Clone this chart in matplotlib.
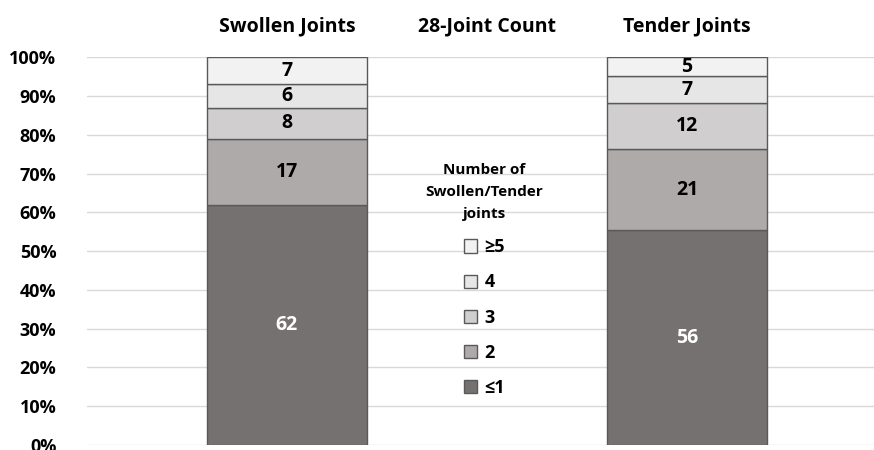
import numpy as np
import matplotlib.pyplot as plt

plt.rcParams['font.family'] = ['Open Sans', 'DejaVu Sans']
plt.rcParams['font.weight'] = 'bold'
W = 'bold'

# Data
categories = ["Swollen Joints", "28-Joint Count", "Tender Joints"]
levels = ["\u22641", "2", "3", "4", "\u22655"]
swollen = [62, 17, 8, 6, 7]
tender = [56, 21, 12, 7, 5]
colors = ["#767171", "#AEAAAA", "#D0CECE", "#E7E6E6", "#F2F2F2"]
text_colors = ["white", "black", "black", "black", "black"]

groups = {0: swollen, 2: tender}

fig = plt.figure(figsize=(8.74, 4.5), dpi=100)
ax = fig.add_axes([0.0995, 0.011, 0.9005, 0.862])

handles = [None] * len(levels)
for xpos, vals in groups.items():
    vals = np.array(vals, dtype=float)
    frac = vals / vals.sum()
    bottom = 0.0
    for i, (v, f) in enumerate(zip(vals, frac)):
        b = ax.bar(xpos, f, bottom=bottom, width=0.8, color=colors[i],
                   edgecolor="#595959", linewidth=1.0, zorder=3,
                   label=levels[i])
        handles[i] = b
        ax.text(xpos, bottom + f / 2, f"{int(v)}", ha="center", va="center",
                fontsize=14, fontweight=W, color=text_colors[i], zorder=4)
        bottom += f

ax.set_xlim(-1.0, 2.935)
ax.set_ylim(0, 1)
ax.set_yticks(np.arange(0, 1.01, 0.1))
ax.set_yticklabels([f"{int(round(t * 100))}%" for t in np.arange(0, 1.01, 0.1)],
                   fontsize=13, fontweight=W)
ax.yaxis.grid(True, color="#D9D9D9", linewidth=1.0, zorder=0)
ax.set_axisbelow(True)
ax.tick_params(axis="y", length=0, pad=22)

ax.xaxis.tick_top()
ax.set_xticks([0, 1, 2])
ax.set_xticklabels(categories, fontsize=14, fontweight=W)
ax.tick_params(axis="x", length=0, pad=15)

for s in ax.spines.values():
    s.set_visible(False)

leg = ax.legend(handles[::-1], levels[::-1], loc="upper center",
                bbox_to_anchor=(0.505, 0.77), frameon=False,
                title="Number of\nSwollen/Tender\njoints",
                title_fontproperties={"size": 11, "weight": W},
                prop={"size": 13, "weight": W},
                handlelength=0.75, handleheight=0.75, handletextpad=0.4,
                labelspacing=0.95)
leg.get_title().set_multialignment("center")
leg.get_title().set_linespacing(1.75)

fig.savefig("out.png", dpi=100)
